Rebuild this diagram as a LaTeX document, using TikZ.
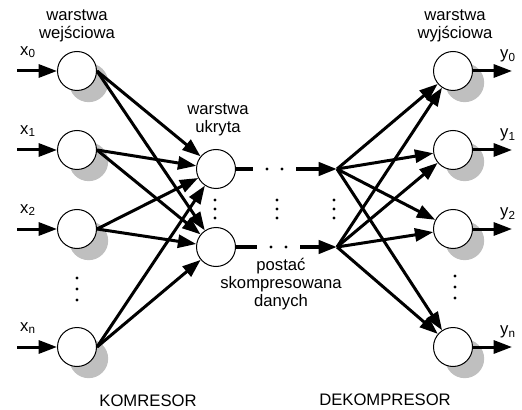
\documentclass[tikz,border=0pt]{standalone}
\usepackage{fontspec}
\setmainfont{Liberation Sans}
\usetikzlibrary{arrows.meta,shadows}

\tikzset{
  neuron/.style={circle,draw,line width=0.6pt,fill=white,minimum size=23.4pt,inner sep=0pt},
  shadowed/.style={neuron,drop shadow={shadow xshift=7pt,shadow yshift=-7pt,fill=black!25,opacity=1}},
  tip/.style={-{Triangle[length=11pt,width=7.8pt]}},
  link/.style={line width=1.8pt,tip},
  bus/.style={line width=2.4pt},
  txt/.style={align=center,font=\fontsize{10}{11}\selectfont},
}

\begin{document}
\begin{tikzpicture}[x=0.6pt,y=-0.6pt]
    \useasboundingbox (0,0) rectangle (522,410);
    % input and output layers
    \foreach \i/\y in {0/71,1/150,2/229,n/347}{
        \node[shadowed] (in\i) at (77,\y) {};
        \node[shadowed] (out\i) at (453,\y) {};
        \coordinate (src\i) at (17,\y);
        \coordinate (dst\i) at (512,\y);
        \draw[link] (src\i) -- (in\i);
        \draw[link] (out\i.east) -- (dst\i);
        \node (lx\i) at (28,\y-19) {x\textsubscript{\i}};
        \node (ly\i) at (508,\y-15) {y\textsubscript{\i}};
    }
    % hidden layer
    \node[neuron] (h0) at (216,169) {};
    \node[neuron] (h1) at (216,247) {};
    \foreach \i in {0,1,2,n}
        \foreach \h in {0,1}
            \draw[link] (in\i.east) -- (h\h);
    % compressed code, split by dots
    \coordinate (a0) at (253,169);
    \coordinate (b0) at (296,169);
    \coordinate (j0) at (337,169);
    \coordinate (a1) at (257,247);
    \coordinate (b1) at (300,247);
    \coordinate (j1) at (337,247);
    \draw[bus] (h0.east) -- (a0);
    \draw[bus] (h1.east) -- (a1);
    \draw[bus,tip] (b0) -- (j0);
    \draw[bus,tip] (b1) -- (j1);
    \fill (267,169) circle (1.6) (282,169) circle (1.6);
    \fill (271,247) circle (1.6) (286,247) circle (1.6);
    \foreach \o in {0,1,2,n}
        \foreach \j in {0,1}
            \draw[link] (j\j) -- (out\o);
    % vertical dots
    \foreach \y in {200,209,218}{
        \fill (215,\y) circle (1.6);
        \fill (277,\y) circle (1.6);
        \fill (334,\y) circle (1.6);
    }
    \foreach \y in {278,289,300}{
        \fill (77,\y) circle (1.6);
        \fill (455,\y-2) circle (1.6);
    }
    % labels
    \node[txt] (lin) at (77,26) {warstwa\\wejściowa};
    \node[txt] (lhid) at (218,120) {warstwa\\ukryta};
    \node[txt] (lout) at (455,26) {warstwa\\wyjściowa};
    \node[txt] (lcode) at (281,284) {postać\\skompresowana\\danych};
    \node[txt] (lenc) at (148,401) {KOMRESOR};
    \node[txt] (ldec) at (385,400) {DEKOMPRESOR};
\end{tikzpicture}
\end{document}
